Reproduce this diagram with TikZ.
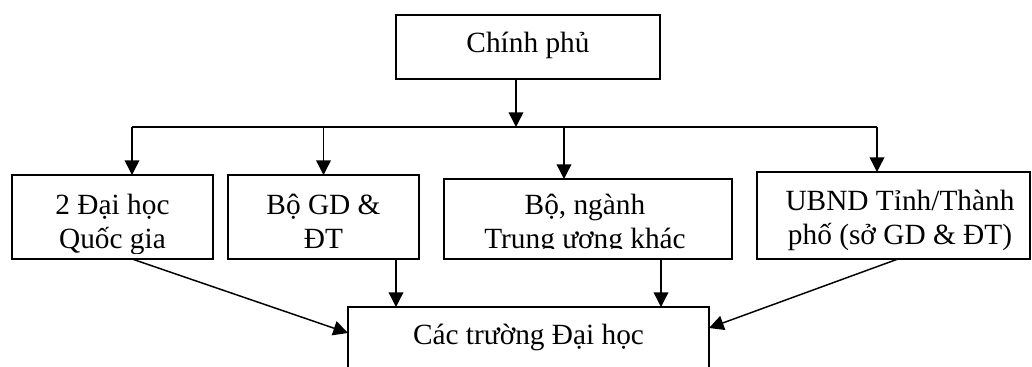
\documentclass[tikz,border=0pt]{standalone}
\usepackage{fontspec}
\setmainfont{Liberation Serif}
\usetikzlibrary{arrows.meta,calc}
\begin{document}
\begin{tikzpicture}[x=0.75pt,y=-0.75pt,
  box/.style={draw, line width=1.1pt, outer sep=0pt, inner sep=0pt},
  txt/.style={font=\fontsize{22}{25.5}\selectfont, align=center, inner sep=0pt, anchor=base},
  arr/.style={line width=1.1pt, -{Triangle[length=11pt,width=11pt]}},
  ln/.style={line width=1.1pt}]
\useasboundingbox (0,0) rectangle (1032,367);
\clip (0,0) rectangle (1032,367);
% boxes
\node[box, minimum width=264*0.75pt, minimum height=64*0.75pt] (cp) at (528,47) {};
\node[box, minimum width=201*0.75pt, minimum height=84*0.75pt] (b1) at (112.5,217) {};
\node[box, minimum width=191*0.75pt, minimum height=84*0.75pt] (b2) at (323.5,217) {};
\node[box, minimum width=288*0.75pt, minimum height=80*0.75pt] (b3) at (588,219) {};
\node[box, minimum width=273*0.75pt, minimum height=87*0.75pt] (b4) at (893.5,215.5) {};
\node[box, minimum width=361*0.75pt, minimum height=113*0.75pt] (bot) at (528.5,363.5) {};
% texts (anchor base = baseline of the last line), clipped to the text areas
\begin{scope}
  \clip (cp.north west) rectangle ($(cp.south east)+(0,-5)$);
  \node[txt] (tcp) at ($(cp.north)+(0,38)$) {Chính phủ};
\end{scope}
\begin{scope}
  \clip (b1.north west) rectangle ($(b1.south east)+(0,-6)$);
  \node[txt] (t1) at ($(b1.north)+(0,73)$) {2 Đại học\\Quốc gia};
\end{scope}
\begin{scope}
  \clip (b2.north west) rectangle ($(b2.south east)+(0,-6)$);
  \node[txt] (t2) at ($(b2.north)+(0,73)$) {Bộ GD \&\\ĐT};
\end{scope}
\begin{scope}
  \clip (b3.north west) rectangle ($(b3.south east)+(0,-10)$);
  \node[txt] (t3) at ($(b3.north)+(-3,69)$) {Bộ, ngành\\Trung ương khác};
\end{scope}
\begin{scope}
  \clip (b4.north west) rectangle ($(b4.south east)+(0,-5)$);
  \node[txt] (t4) at ($(b4.north)+(6.5,72)$) {UBND Tỉnh/Thành\\phố (sở GD \& ĐT)};
\end{scope}
\node[txt] (tb) at ($(bot.north)+(0,37)$) {Các trường Đại học};
% connector end points
\coordinate (busL) at (132,127);
\coordinate (busR) at (877,127);
\coordinate (cpo) at ($(cp.south)+(-12,0)$);
\coordinate (b3in) at ($(b3.north)+(-24,0)$);
\coordinate (b1out) at ($(b1.south)+(19.5,0)$);
\coordinate (b2out) at ($(b2.south)+(72.5,0)$);
\coordinate (b3out) at ($(b3.south)+(73,0)$);
\coordinate (b4out) at ($(b4.south)+(4.5,0)$);
\coordinate (botL) at ($(bot.north west)+(0,26)$);
\coordinate (botR) at ($(bot.north east)+(0,21)$);
% bus
\draw[ln] (busL) -- (busR);
\draw[arr] (cpo) -- (cpo |- busL);
\draw[arr] (busL) -- (busL |- b1.north);
\draw[arr] (b2.north |- busL) -- (b2.north);
\draw[arr] (b3in |- busL) -- (b3in);
\draw[arr] (busR) -- (busR |- b4.north);
% to the universities
\draw[arr] (b1out) -- (botL);
\draw[arr] (b2out) -- (b2out |- bot.north);
\draw[arr] (b3out) -- (b3out |- bot.north);
\draw[arr] (b4out) -- (botR);
\end{tikzpicture}
\end{document}
